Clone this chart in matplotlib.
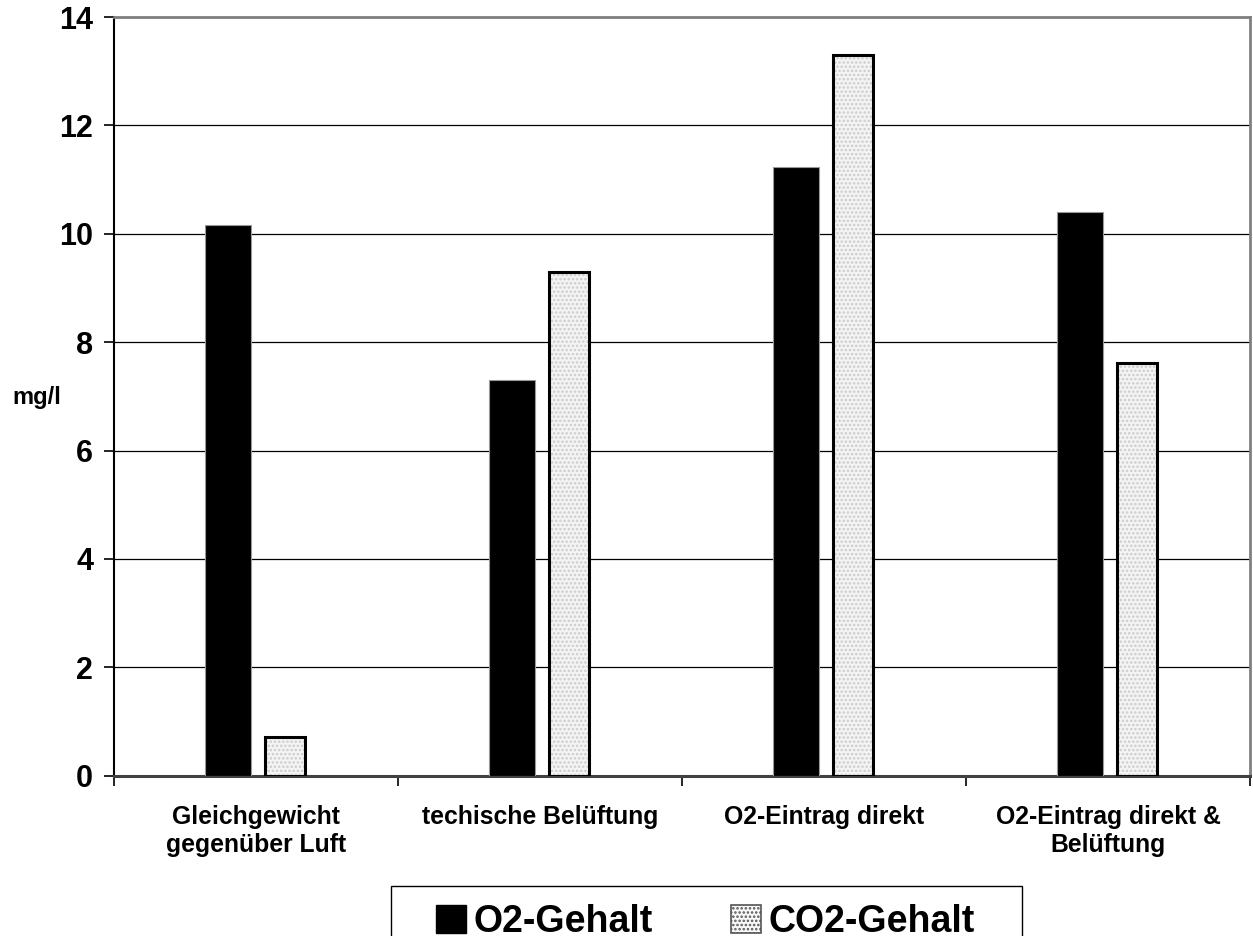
import numpy as np
import matplotlib
matplotlib.use("Agg")
import matplotlib.pyplot as plt
from matplotlib.patches import Patch, Rectangle

plt.rcParams["font.family"] = ["Liberation Sans", "DejaVu Sans"]
plt.rcParams["font.weight"] = "bold"
plt.rcParams["hatch.linewidth"] = 1.2

# Daten
kategorien = ["Gleichgewicht\ngegenüber Luft", "techische Belüftung",
              "O2-Eintrag direkt", "O2-Eintrag direkt &\nBelüftung"]
o2_gehalt = [10.17, 7.31, 11.23, 10.40]
co2_gehalt = [0.72, 9.30, 13.30, 7.61]
y_ticks = [0, 2, 4, 6, 8, 10, 12, 14]

fig = plt.figure(figsize=(12.53, 9.36), dpi=100)
ax = fig.add_axes([0.091, 0.1713, 0.907, 0.8105])

x = np.arange(len(kategorien))

# Gitterlinien
ax.set_axisbelow(True)
ax.yaxis.grid(True, color="black", linewidth=0.9)

# O2 Balken
ax.bar(x - 0.0986, o2_gehalt, 0.162, color="black", edgecolor="#999999", linewidth=0.8, zorder=3)
# CO2 Balken: gepunktete Füllung + schwarzer Rand
ax.bar(x + 0.102, co2_gehalt, 0.141, color="#f4f4f4", edgecolor="#cccccc", hatch="....",
       linewidth=0, zorder=3)
ax.bar(x + 0.102, co2_gehalt, 0.141, fill=False, edgecolor="black", linewidth=2.2, zorder=4)

ax.set_xlim(-0.5, 3.5)
ax.set_ylim(0, 14)
ax.set_yticks(y_ticks)
ax.set_yticklabels([str(t) for t in y_ticks], fontsize=22, fontweight="bold")
ax.tick_params(axis="y", direction="out", length=7, width=1.2, pad=8)

ax.set_xticks(x)
ax.set_xticklabels(kategorien, fontsize=17.8, fontweight="bold", linespacing=1.2)
ax.set_xticks(np.arange(-0.5, 4.0, 1.0), minor=True)
ax.tick_params(axis="x", which="major", length=0, pad=21)
ax.tick_params(axis="x", which="minor", direction="out", length=7, width=1.2)

for s in ["top", "right"]:
    ax.spines[s].set_color("#808080")
    ax.spines[s].set_linewidth(2)
ax.spines["left"].set_color("black")
ax.spines["left"].set_linewidth(1.5)
ax.spines["bottom"].set_color("#404040")
ax.spines["bottom"].set_linewidth(2.2)

fig.text(0.0295, 0.575, "mg/l", fontsize=17, fontweight="bold", ha="center", va="center")

# Legende ohne eigenen Rahmen, Rahmen separat
handles = [
    Patch(facecolor="black", edgecolor="black", label="O2-Gehalt"),
    Patch(facecolor="#f8f8f8", edgecolor="#555555", hatch="....", linewidth=1.2, label="CO2-Gehalt"),
]
plt.rcParams["hatch.color"] = "#cccccc"
leg = fig.legend(handles=handles, loc="upper left", bbox_to_anchor=(436 / 1253, 1 - 904 / 936),
                 ncol=2, frameon=False, prop={"size": 27, "weight": "bold"},
                 handlelength=0.8, handleheight=0.8, handletextpad=0.19,
                 columnspacing=2.1, borderpad=0, borderaxespad=0)
fig.patches.append(Rectangle((391 / 1253, -0.05), (1022 - 391) / 1253, 1 - 886 / 936 + 0.05,
                             transform=fig.transFigure, fill=False, edgecolor="black",
                             linewidth=1.0, figure=fig))

fig.savefig("out.png", dpi=100)
